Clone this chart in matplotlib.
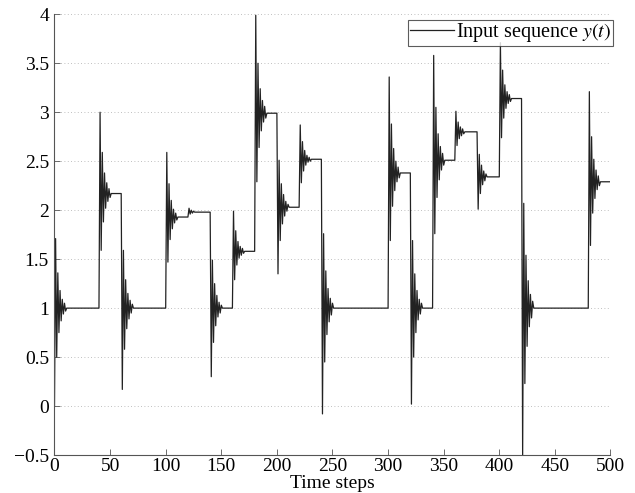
import numpy as np
import matplotlib
matplotlib.use("Agg")
import matplotlib.pyplot as plt

# step instants, new level after each step, and the ringing read after each step
step_times = [0, 40, 60, 100, 120, 140, 160, 180, 200, 220, 240,
              300, 320, 340, 360, 380, 400, 420, 480]
step_levels = [1.00, 2.17, 1.00, 1.93, 1.98, 1.00, 1.58, 2.99, 2.03, 2.52, 1.00,
               2.38, 1.00, 2.51, 2.80, 2.34, 3.14, 1.00, 2.29]
ringing = [
    [1.71, 0.50, 1.36, 0.75, 1.18, 0.87, 1.09, 0.94, 1.05, 0.97],
    [3.00, 1.59, 2.59, 1.88, 2.38, 2.02, 2.28, 2.09, 2.22, 2.13],
    [0.17, 1.59, 0.58, 1.29, 0.79, 1.15, 0.89, 1.08, 0.95, 1.04],
    [2.59, 1.47, 2.27, 1.70, 2.10, 1.81, 2.01, 1.87, 1.97, 1.90],
    [2.02, 1.96, 2.00, 1.97, 1.99],
    [0.30, 1.49, 0.65, 1.25, 0.82, 1.13, 0.91, 1.06, 0.95, 1.03],
    [1.99, 1.29, 1.79, 1.44, 1.68, 1.51, 1.63, 1.54, 1.61, 1.56],
    [3.99, 2.29, 3.50, 2.64, 3.24, 2.81, 3.12, 2.90, 3.06, 2.94],
    [1.35, 2.51, 1.69, 2.27, 1.86, 2.16, 1.94, 2.09, 1.99, 2.06],
    [2.87, 2.28, 2.70, 2.40, 2.61, 2.46, 2.56, 2.49, 2.54, 2.50],
    [-0.08, 1.76, 0.45, 1.38, 0.73, 1.20, 0.86, 1.10, 0.93, 1.05],
    [3.36, 1.69, 2.88, 2.04, 2.63, 2.20, 2.50, 2.29, 2.44, 2.33],
    [0.02, 1.69, 0.50, 1.35, 0.75, 1.18, 0.88, 1.09, 0.94, 1.05],
    [3.58, 1.76, 3.05, 2.13, 2.78, 2.31, 2.65, 2.41, 2.58, 2.46],
    [3.01, 2.66, 2.90, 2.73, 2.85, 2.76, 2.83, 2.78],
    [2.01, 2.57, 2.17, 2.46, 2.26, 2.40, 2.30, 2.37],
    [3.71, 2.74, 3.43, 2.94, 3.28, 3.04, 3.21, 3.09, 3.18, 3.11],
    [-0.52, 2.07, 0.23, 1.54, 0.61, 1.28, 0.81, 1.14, 0.90, 1.07],
    [3.21, 1.64, 2.75, 1.97, 2.52, 2.12, 2.41, 2.21, 2.35, 2.25],
]
n_steps = 500
y0 = 0.0

# build the sequence
t = np.arange(n_steps + 1)
y = np.full(n_steps + 1, y0)
for i, s in enumerate(step_times):
    y[s + 1:] = step_levels[i]
    r = ringing[i]
    y[s + 1:s + 1 + len(r)] = r

plt.rcParams["font.family"] = "Liberation Serif"
plt.rcParams["mathtext.fontset"] = "stix"

fig = plt.figure(figsize=(6.35, 4.93), dpi=100)
ax = fig.add_axes([0.0858, 0.077, 0.8756, 0.894])

ax.plot(t, y, color="#222222", lw=0.9, label="Input sequence $y(t)$")

ax.set_xlim(0, 500)
ax.set_ylim(-0.5, 4)
ax.set_xticks(np.arange(0, 501, 50))
ax.set_yticks(np.arange(-0.5, 4.01, 0.5))
ax.set_yticklabels(["\u22120.5", "0", "0.5", "1", "1.5", "2", "2.5", "3", "3.5", "4"])
ax.tick_params(direction="in", length=4, labelsize=14, width=0.6, color="#555555")
ax.tick_params(axis="x", pad=2)
ax.tick_params(axis="y", pad=4)

ax.spines["top"].set_visible(False)
ax.spines["right"].set_visible(False)
for sp in ["left", "bottom"]:
    ax.spines[sp].set_color("#555555")
    ax.spines[sp].set_linewidth(0.8)

ax.yaxis.grid(True, linestyle=(0, (1, 3)), color="#aaaaaa", lw=0.6)
ax.set_axisbelow(True)

ax.set_xlabel("Time steps", fontsize=14, labelpad=0)

leg = ax.legend(loc="upper right", bbox_to_anchor=(1.004, 0.9875), fontsize=14.5,
                frameon=True, fancybox=False, handlelength=2.2, handletextpad=0.1,
                borderpad=0.08, borderaxespad=0.0)
leg.get_frame().set_edgecolor("#333333")
leg.get_frame().set_linewidth(0.8)

fig.savefig("out.png", dpi=100)
